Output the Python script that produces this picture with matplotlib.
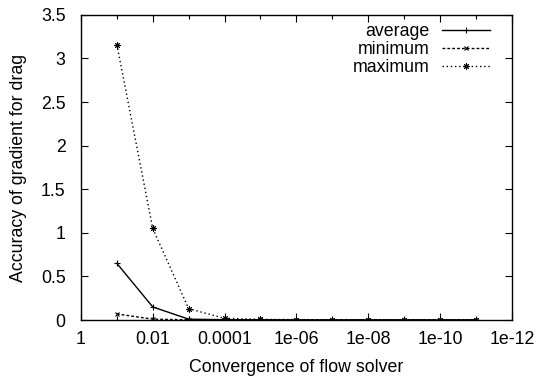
# Accuracy of drag gradient vs flow solver convergence (gnuplot-like look)
import matplotlib
matplotlib.use("Agg")
import matplotlib.pyplot as plt
from matplotlib.ticker import FixedLocator, FixedFormatter, NullFormatter

plt.rcParams['font.family'] = ['Liberation Sans', 'DejaVu Sans']

# Data
convergence = [1e-1, 1e-2, 1e-3, 1e-4, 1e-5, 1e-6, 1e-7, 1e-8, 1e-9, 1e-10, 1e-11]
average = [0.65, 0.15, 0.01, 0.004, 0.003, 0.002, 0.002, 0.002, 0.002, 0.002, 0.002]
minimum = [0.07, 0.01, 0.003, 0.002, 0.001, 0.001, 0.001, 0.001, 0.001, 0.001, 0.001]
maximum = [3.16, 1.05, 0.13, 0.02, 0.008, 0.005, 0.004, 0.004, 0.004, 0.004, 0.004]

major_x = [1, 1e-2, 1e-4, 1e-6, 1e-8, 1e-10, 1e-12]
major_x_labels = ["1", "0.01", "0.0001", "1e-06", "1e-08", "1e-10", "1e-12"]
minor_x = [1e-1, 1e-3, 1e-5, 1e-7, 1e-9, 1e-11]
y_ticks = [0, 0.5, 1, 1.5, 2, 2.5, 3, 3.5]
y_labels = ["0", "0.5", "1", "1.5", "2", "2.5", "3", "3.5"]

fs = 12.8

fig = plt.figure(figsize=(5.36, 3.81), dpi=100)
ax = fig.add_axes([0.151, 0.160, 0.804, 0.801])

ax.plot(convergence, average, color="black", lw=1.0, ls="-", marker="+",
        ms=4, mew=0.8, label="average")
ax.plot(convergence, minimum, color="black", lw=1.0, ls=(0, (2, 1.5)), marker="x",
        ms=3.5, mew=0.8, label="minimum")
ax.plot(convergence, maximum, color="black", lw=1.0, ls=(0, (1, 2)), marker=(8, 2, 0),
        ms=4.5, mew=0.7, label="maximum")

ax.set_xscale("log")
ax.set_xlim(1, 1e-12)
ax.set_ylim(0, 3.5)

ax.xaxis.set_major_locator(FixedLocator(major_x))
ax.xaxis.set_major_formatter(FixedFormatter(major_x_labels))
ax.xaxis.set_minor_locator(FixedLocator(minor_x))
ax.xaxis.set_minor_formatter(NullFormatter())
ax.set_yticks(y_ticks)
ax.set_yticklabels(y_labels)

ax.tick_params(which="both", direction="in", top=True, right=True,
               labelsize=fs, width=0.8)
ax.tick_params(axis="x", pad=8)
ax.tick_params(axis="y", pad=11)
ax.tick_params(which="major", length=5)
ax.tick_params(which="minor", length=3)
for s in ax.spines.values():
    s.set_linewidth(1.0)

ax.set_xlabel("Convergence of flow solver", fontsize=fs, labelpad=8)
ax.set_ylabel("Accuracy of gradient for drag", fontsize=fs, labelpad=10)

ax.legend(loc="upper right", bbox_to_anchor=(0.949, 0.972), frameon=False,
          markerfirst=False, fontsize=fs, handlelength=2.7, handletextpad=0.67,
          labelspacing=0.04, borderaxespad=0, borderpad=0, alignment="right")

fig.savefig("out.png", dpi=100)
